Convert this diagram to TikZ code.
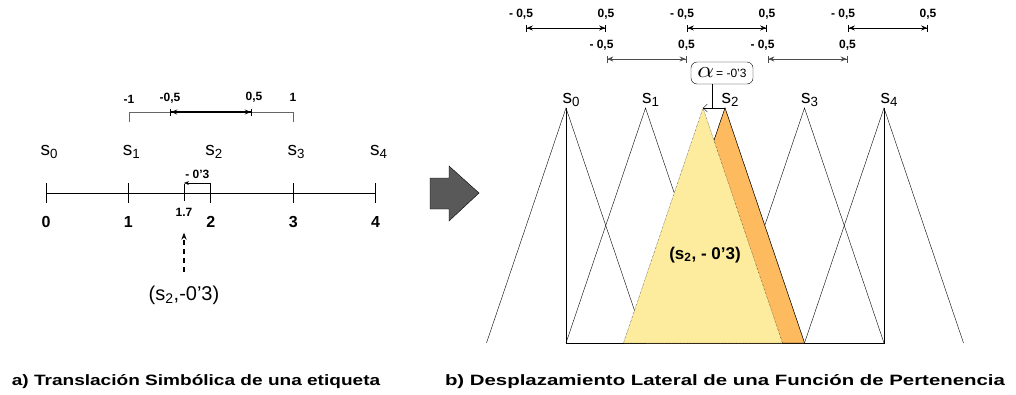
\documentclass[tikz,border=0pt]{standalone}
\usepackage{fontspec}
\setmainfont{Liberation Sans}
\usetikzlibrary{calc,arrows.meta}
\definecolor{oldfn}{HTML}{FDBA5E}
\definecolor{newfn}{HTML}{FDEC9E}

\begin{document}
\begin{tikzpicture}[x=1pt,y=-1pt,
  small/.style={font=\fontsize{12}{12}\selectfont\bfseries},
  sname/.style={font=\fontsize{19}{19}\selectfont},
  num/.style={font=\fontsize{16}{16}\selectfont\bfseries},
  caption/.style={font=\fontsize{15}{15}\selectfont\bfseries},
  bar/.style={{Bar[width=7pt]Stealth[length=6pt,width=5pt]}-{Stealth[length=6pt,width=5pt]Bar[width=7pt]}}]
  \useasboundingbox (0,0) rectangle (1016,394);

  % a) the axis with the labels
  \foreach \i in {0,...,4} {
    \coordinate (t\i) at (46+82.4*\i,193);
    \draw[thick] ($(t\i)+(0,-10)$) -- ($(t\i)+(0,10)$);
    \node[num] (n\i) at ($(t\i)+(0,29)$) {\i};
    \node[sname,anchor=base west] (s\i) at ($(t\i)+(-9,-38)$) {s\textsubscript{\i}};
  }
  \draw[thick] (t0) -- (t4);
  \coordinate (t17) at (184,193);
  \draw[thick] ($(t17)+(0,-9)$) -- ($(t17)+(0,8)$);
  \node[small] (n17) at (184,212) {1.7};
  \draw[-{Stealth[length=5pt]}] ($(t2)+(0,-10)$) -- ($(t17)+(0,-10)$)
    node[small,midway,above=1pt] (shift) {- 0'3};

  % interval of s1..s3
  \coordinate (b1) at (129,112);
  \coordinate (b3) at (293,112);
  \draw[black!60,thick] ($(b1)+(0,10)$) -- (b1) -- (b3) -- ($(b3)+(0,10)$);
  \node[small,above=5pt] (lb1) at (b1) {-1};
  \node[small,above=7pt] (lb3) at (b3) {1};
  \coordinate (h1) at (170,112);
  \coordinate (h2) at (252,112);
  \draw[very thick,bar] (h1) -- (h2);
  \node[small,above=5pt] (lh1) at (h1) {-0,5};
  \node[small,above=6pt] (lh2) at ($(h2)+(2,0)$) {0,5};

  \node[font=\fontsize{20}{20}\selectfont] (res) at (184,295) {(s\textsubscript{2},-0'3)};
  \draw[line width=1.2pt,dash pattern=on 5pt off 4pt,-{Stealth[length=7pt]},shorten <=10pt,shorten >=13pt]
    (res.north -| n17) -- (n17.south);

  % big arrow
  \draw[fill=black!65] (430,178) -- (449,178) -- (449,166) -- (479,193)
    -- (449,221) -- (449,209) -- (430,209) -- cycle;

  % b) the membership functions
  \foreach \i in {0,...,4} {
    \coordinate (p\i) at (566+79.5*\i,108);
    \draw ($(p\i)+(-79.5,235)$) -- (p\i) -- ($(p\i)+(79.5,235)$);
  }
  \draw (p0) -- ($(p0)+(0,235)$) -- ($(p4)+(0,235)$) -- (p4);
  \draw[fill=oldfn] ($(p2)+(-79.5,235)$) -- (p2) -- ($(p2)+(79.5,235)$) -- cycle;
  \coordinate (q2) at ($(p2)+(-22,0)$);
  \draw[densely dotted,fill=newfn] ($(q2)+(-79.5,235)$) -- (q2) -- ($(q2)+(79.5,235)$) -- cycle;
  \node[font=\fontsize{17}{17}\selectfont\bfseries] (res2) at (705,255) {(s\textsubscript{2}, - 0'3)};
  \foreach \i in {0,...,4}
    \node[sname,anchor=base west] (r\i) at ($(p\i)+(-7,-5)$) {s\textsubscript{\i}};

  \node[draw,rounded corners=6pt,inner sep=2pt,minimum width=62pt,minimum height=22pt] (alpha) at (722,73)
    {\scalebox{2.6}[2.3]{$\alpha$}\fontsize{12}{12}\selectfont\,= -0'3};
  \coordinate (m) at (712,108);
  \draw (alpha.south -| m) -- (m);
  \draw[-{Straight Barb[length=4pt]}] (p2) -- (q2);

  % intervals above the labels
  \foreach \i/\y/\c in {0/28/black,1/59/black!70,2/28/black,3/59/black!70,4/28/black} {
    \coordinate (al\i) at (526+80.5*\i,\y);
    \coordinate (ar\i) at (606+80.5*\i,\y);
    \draw[thick,\c,bar] (al\i) -- (ar\i);
    \node[small,above=5pt] (ll\i) at ($(al\i)+(-5,0)$) {- 0,5};
    \node[small,above=5pt] (lr\i) at (ar\i) {0,5};
  }

  \node[caption] (capa) at (196,382) {\scalebox{1.27}[1]{a) Translación Simbólica de una etiqueta}};
  \node[caption] (capb) at (725,382) {\scalebox{1.36}[1]{b) Desplazamiento Lateral de una Función de Pertenencia}};
\end{tikzpicture}
\end{document}
